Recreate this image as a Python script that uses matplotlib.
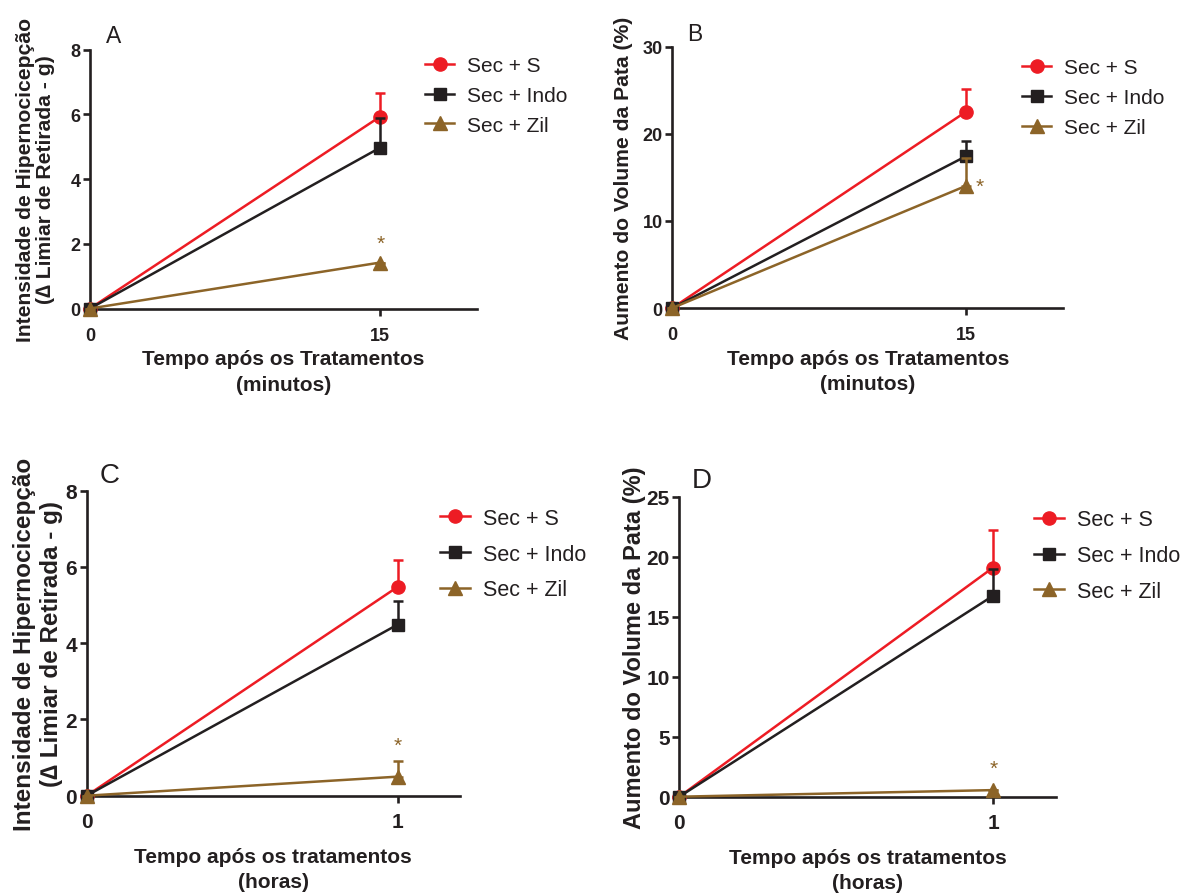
import matplotlib
matplotlib.use("Agg")
import matplotlib.pyplot as plt
from matplotlib import font_manager
import numpy as np

names = {f.name for f in font_manager.fontManager.ttflist}
NARROW = 'Liberation Sans Narrow' if 'Liberation Sans Narrow' in names else 'Liberation Sans'
REG = 'Liberation Sans'

plt.rcParams['font.family'] = [REG, 'DejaVu Sans']

# ---------------- data ----------------
series_labels = ['Sec + S', 'Sec + Indo', 'Sec + Zil']

a_x = [0, 15]
a_s = [0, 5.93]
a_s_err = [0, 0.72]
a_indo = [0, 4.97]
a_indo_err = [0, 0.90]
a_zil = [0, 1.42]
a_zil_err = [0, 0.0]

b_x = [0, 15]
b_s = [0, 22.5]
b_s_err = [0, 2.6]
b_indo = [0, 17.4]
b_indo_err = [0, 1.8]
b_zil = [0, 14.0]
b_zil_err = [0, 3.2]

c_x = [0, 1]
c_s = [0, 5.48]
c_s_err = [0, 0.71]
c_indo = [0, 4.49]
c_indo_err = [0, 0.61]
c_zil = [0, 0.50]
c_zil_err = [0, 0.40]

d_x = [0, 1]
d_s = [0, 19.1]
d_s_err = [0, 3.1]
d_indo = [0, 16.75]
d_indo_err = [0, 2.2]
d_zil = [0, 0.55]
d_zil_err = [0, 0.0]

RED = '#ed1c24'
BLACK = '#231f20'
BROWN = '#8c6428'
TXT = '#231f20'

W, H = 1181, 895
fig = plt.figure(figsize=(W / 100, H / 100), dpi=100)


def fx(px):
    return px / W


def fy(py):
    return 1 - py / H


def panel(rect, x, groups, xlim, xticks, ylim, yticks, ylabel, xlabel,
          letter, letter_pos, leg_pos, star_pos, bottom, ylabelpad,
          ylabel_size, ylabel_ls):
    left, right, top, bot = rect
    ax = fig.add_axes([fx(left), fy(bot), fx(right - left), (bot - top) / H])
    tick_font = NARROW if bottom else REG
    tick_size = 15 if bottom else 13
    specs = [(RED, 'o', 9.5), (BLACK, 's', 8.5), (BROWN, '^', 10)]
    handles = []
    for i, ((vals, err), (col, mk, ms)) in enumerate(zip(groups, specs)):
        z = 3 + i
        ax.errorbar(x, vals, yerr=[np.zeros(len(err)), err], fmt='none',
                    ecolor=col, elinewidth=1.8, capsize=3.5, capthick=1.8,
                    zorder=z, clip_on=False)
        h, = ax.plot(x, vals, color=col, marker=mk, markersize=ms, lw=1.8,
                     zorder=z + 0.5, clip_on=False, label=series_labels[i])
        handles.append(h)
    ax.set_xlim(*xlim)
    ax.set_ylim(*ylim)
    ax.set_xticks(xticks)
    ax.set_yticks(yticks)
    for s in ['top', 'right']:
        ax.spines[s].set_visible(False)
    for s in ['left', 'bottom']:
        ax.spines[s].set_linewidth(1.9)
        ax.spines[s].set_color(BLACK)
    ax.tick_params(axis='both', direction='out', length=5, width=1.9,
                   color=BLACK, labelcolor=TXT, pad=2)
    for lab in ax.get_xticklabels() + ax.get_yticklabels():
        lab.set_fontfamily(tick_font)
        lab.set_fontweight('bold')
        lab.set_fontsize(tick_size)
    ax.tick_params(axis='x', pad=8 if not bottom else 7)

    ax.set_xlabel(xlabel, fontsize=15, fontweight='bold',
                  color=TXT, labelpad=4 if not bottom else 11,
                  linespacing=1.45)
    ax.set_ylabel(ylabel, fontsize=ylabel_size,
                  fontweight='bold', color=TXT, linespacing=ylabel_ls,
                  labelpad=ylabelpad)

    fig.text(fx(letter_pos[0]), fy(letter_pos[1]), letter,
             fontsize=20 if bottom else 16.5,
             ha='center', va='center', color=TXT)

    ax.text(star_pos[0], star_pos[1], '*', color=BROWN, fontsize=15,
            ha='center', va='center', zorder=10)

    lx, ly = leg_pos
    leg = fig.legend(handles=handles, loc='upper left',
                     bbox_to_anchor=(fx(lx), fy(ly)),
                     frameon=False, borderpad=0, borderaxespad=0,
                     handlelength=1.4, handletextpad=0.6,
                     labelspacing=0.52 if not bottom else 0.68,
                     prop={'size': 15 if not bottom else 15.5})
    for t in leg.get_texts():
        t.set_color(TXT)
    return ax


ylab_hip = 'Intensidade de Hipernocicepção\n(∆ Limiar de Retirada - g)'
ylab_vol = 'Aumento do Volume da Pata (%)'

panel((90, 477, 50.5, 309.5), a_x,
      [(a_s, a_s_err), (a_indo, a_indo_err), (a_zil, a_zil_err)],
      (0, 20), [0, 15], (0, 8), [0, 2, 4, 6, 8], ylab_hip,
      'Tempo após os Tratamentos\n(minutos)', 'A', (113.5, 36.5),
      (425, 57), (15, 2.0), False, 11, 15.2, 1.05)

panel((672.3, 1063.3, 47.7, 309), b_x,
      [(b_s, b_s_err), (b_indo, b_indo_err), (b_zil, b_zil_err)],
      (0, 20), [0, 15], (0, 30), [0, 10, 20, 30], ylab_vol,
      'Tempo após os Tratamentos\n(minutos)', 'B', (695, 34.5),
      (1022, 59.5), (15.7, 14.0), False, 7, 15.2, 1.05)

panel((86.7, 460, 491.7, 796.7), c_x,
      [(c_s, c_s_err), (c_indo, c_indo_err), (c_zil, c_zil_err)],
      (0, 1.2), [0, 1], (0, 8), [0, 2, 4, 6, 8], ylab_hip,
      'Tempo após os tratamentos\n(horas)', 'C', (110, 476),
      (440, 509), (1, 1.31), True, 2, 17.5, 1.2)

panel((679.3, 1056, 497.7, 797.7), d_x,
      [(d_s, d_s_err), (d_indo, d_indo_err), (d_zil, d_zil_err)],
      (0, 1.2), [0, 1], (0, 25), [0, 5, 10, 15, 20, 25], ylab_vol,
      'Tempo após os tratamentos\n(horas)', 'D', (702, 481),
      (1034, 510.5), (1, 2.4), True, 0, 17, 1.05)

fig.savefig('out.png', dpi=100, facecolor='white')
